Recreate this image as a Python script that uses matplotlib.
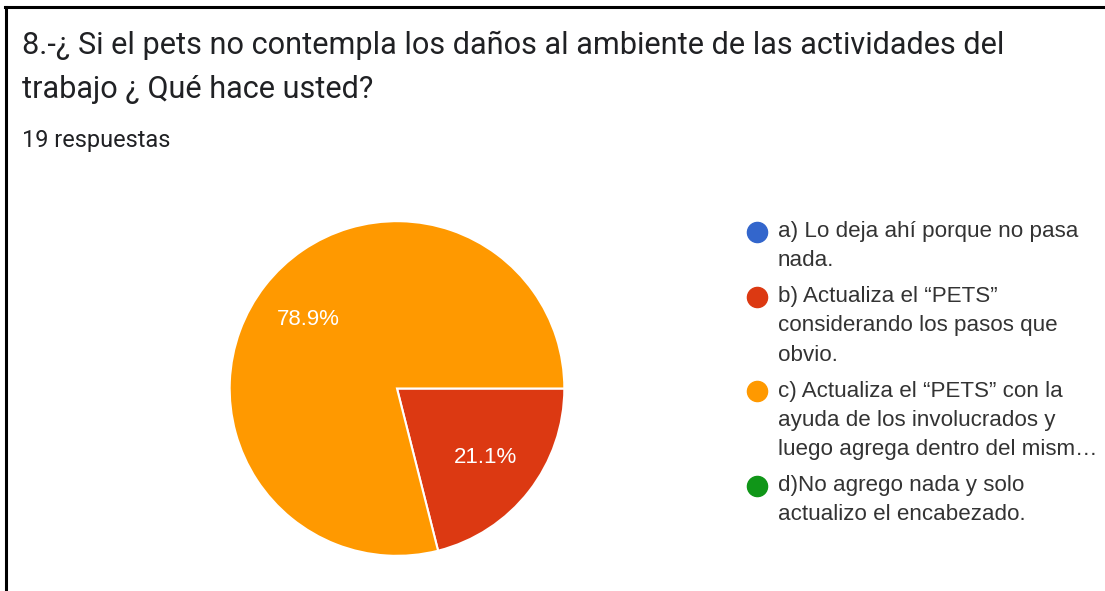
import matplotlib
matplotlib.use("Agg")
import matplotlib.pyplot as plt
from matplotlib.lines import Line2D
from matplotlib import font_manager

# ---- data ----
title_lines = ["8.-¿ Si el pets no contempla los daños al ambiente de las actividades del",
               "trabajo ¿ Qué hace usted?"]
subtitle = "19 respuestas"
categories = [
    ["a) Lo deja ahí porque no pasa", "nada."],
    ["b) Actualiza el “PETS”", "considerando los pasos que", "obvio."],
    ["c) Actualiza el “PETS” con la", "ayuda de los involucrados y", "luego agrega dentro del mism…"],
    ["d)No agrego nada y solo", "actualizo el encabezado."],
]
counts = [0, 4, 15, 0]
colors = ["#3366CC", "#DC3912", "#FF9900", "#109618"]

W, H = 1105, 591
fig = plt.figure(figsize=(W / 100, H / 100), dpi=100)
fig.patch.set_facecolor("white")

avail = {f.name for f in font_manager.fontManager.ttflist}
title_font = "Roboto" if "Roboto" in avail else "DejaVu Sans"
body_font = "Liberation Sans" if "Liberation Sans" in avail else "DejaVu Sans"

def fx(px):
    return px / W

def fy(py):
    return 1 - py / H

# border (top and left)
fig.add_artist(Line2D([fx(5), fx(W)], [fy(6.5), fy(6.5)], color="black", lw=2.2, transform=fig.transFigure))
fig.add_artist(Line2D([fx(5.5), fx(5.5)], [fy(6.5), fy(H)], color="black", lw=2.2, transform=fig.transFigure))

# title
fig.text(fx(22), fy(45), title_lines[0], fontsize=22.1, family=title_font, color="#202124", va="center", ha="left")
fig.text(fx(22), fy(89), title_lines[1], fontsize=22.1, family=title_font, color="#202124", va="center", ha="left")
fig.text(fx(22), fy(140), subtitle, fontsize=16.9, family=title_font, color="#202124", va="center", ha="left")

# pie
cx, cy, r = 397, 388.5, 169
ax = fig.add_axes([fx(cx - r), fy(cy + r), 2 * r / W, 2 * r / H])
nz = [(c, col) for c, col in zip(counts, colors) if c > 0]
vals = [v for v, _ in nz]
cols = [c for _, c in nz]
wedges, texts, autotexts = ax.pie(vals, colors=cols, startangle=0, counterclock=False,
                                  autopct="%1.1f%%", pctdistance=0.67,
                                  wedgeprops=dict(edgecolor="white", linewidth=1.5),
                                  textprops=dict(color="white", fontsize=16, family=body_font))
ax.set_xlim(-1.01, 1.01)
ax.set_ylim(-1.01, 1.01)
ax.set_aspect("equal")
ax.axis("off")

# legend
line_pitch = 29.5
item_gap = 35.5
y = 231.5
for lines, col in zip(categories, colors):
    fig.add_artist(Line2D([fx(757)], [fy(y)], marker="o", markersize=14.5, color=col,
                          linestyle="none", transform=fig.transFigure))
    for i, ln in enumerate(lines):
        fig.text(fx(778), fy(y + i * line_pitch), ln, fontsize=16.1, family=body_font,
                 color="#333333", va="center", ha="left")
    y += (len(lines) - 1) * line_pitch + item_gap

fig.savefig("out.png", dpi=100, facecolor="white")
